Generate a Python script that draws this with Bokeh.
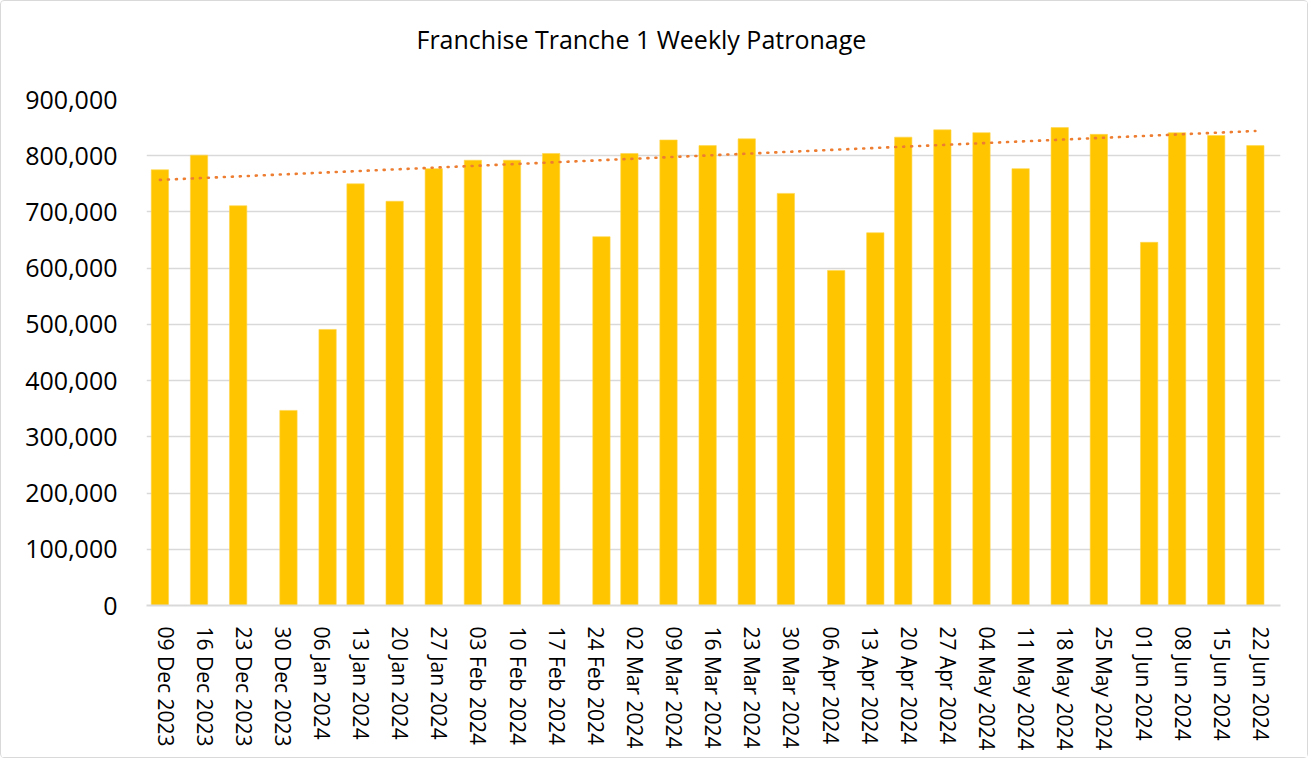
import numpy as np
import pandas as pd
from bokeh.plotting import figure
from bokeh.models import Range1d, FixedTicker, NumeralTickFormatter, Title
from bokeh.embed import file_html
from bokeh.resources import INLINE

title_text = "Franchise Tranche 1 Weekly Patronage"

tick_labels = [
    "09 Dec 2023", "16 Dec 2023", "23 Dec 2023", "30 Dec 2023", "06 Jan 2024",
    "13 Jan 2024", "20 Jan 2024", "27 Jan 2024", "03 Feb 2024", "10 Feb 2024",
    "17 Feb 2024", "24 Feb 2024", "02 Mar 2024", "09 Mar 2024", "16 Mar 2024",
    "23 Mar 2024", "30 Mar 2024", "06 Apr 2024", "13 Apr 2024", "20 Apr 2024",
    "27 Apr 2024", "04 May 2024", "11 May 2024", "18 May 2024", "25 May 2024",
    "01 Jun 2024", "08 Jun 2024", "15 Jun 2024", "22 Jun 2024",
]

bar_dates = [
    "08 Dec 2023", "15 Dec 2023", "22 Dec 2023", "31 Dec 2023", "07 Jan 2024",
    "12 Jan 2024", "19 Jan 2024", "26 Jan 2024", "02 Feb 2024", "09 Feb 2024",
    "16 Feb 2024", "25 Feb 2024", "01 Mar 2024", "08 Mar 2024", "15 Mar 2024",
    "22 Mar 2024", "29 Mar 2024", "07 Apr 2024", "14 Apr 2024", "19 Apr 2024",
    "26 Apr 2024", "03 May 2024", "10 May 2024", "17 May 2024", "24 May 2024",
    "02 Jun 2024", "07 Jun 2024", "14 Jun 2024", "21 Jun 2024",
]

patronage = [
    775000, 801000, 711000, 347000, 491000,
    750000, 719000, 777000, 792000, 792000,
    804000, 656000, 804000, 828000, 818000,
    830000, 733000, 596000, 663000, 833000,
    846000, 841000, 777000, 850000, 838000,
    646000, 841000, 836000, 818000,
]

# trendline values at the first and last bar
trend_values = [757000, 844000]

y_ticks = [0, 100000, 200000, 300000, 400000, 500000, 600000, 700000, 800000, 900000]

FMT = "%d %b %Y"
origin = pd.to_datetime(tick_labels[0], format=FMT)
tick_pos = [int((pd.to_datetime(t, format=FMT) - origin).days) for t in tick_labels]
bar_x = np.array([(pd.to_datetime(d, format=FMT) - origin).days for d in bar_dates], dtype=float)
vals = np.array(patronage, dtype=float)
trend_x = [bar_x[0], bar_x[-1]]

FONT = "Open Sans"
W, H = 1308, 758

p = figure(
    width=W, height=H,
    output_backend="svg", toolbar_location=None,
    x_range=Range1d(-3.4, 199.5), y_range=Range1d(0, 900000),
    min_border_left=145, min_border_right=W - 1279,
    min_border_top=98, min_border_bottom=H - 604,
    title=title_text,
)
p.outline_line_color = None
p.background_fill_color = "white"
p.border_fill_color = "white"
p.styles = {"border": "1.5px solid #D9D9D9", "border-radius": "4px"}

p.title.align = "left"
p.title.offset = 270
p.title.standoff = 0
p.title.text_font = FONT
p.title.text_font_size = "25px"
p.title.text_font_style = "normal"
p.title.text_color = "#000000"

# empty spacer between title and plot area
p.add_layout(Title(text=" ", text_font_size="2px", standoff=40,
                   text_color="white"), "above")

p.vbar(x=bar_x, top=vals, width=3.1, fill_color="#FFC600",
       line_color="#FFD54A", line_width=0.6)
p.line(trend_x, trend_values, line_color="#ED7D31", line_width=2.6,
       line_dash="1 7", line_cap="round")

# y axis
p.yaxis.ticker = FixedTicker(ticks=y_ticks)
p.yaxis.formatter = NumeralTickFormatter(format="0,0")
p.yaxis.axis_line_color = None
p.yaxis.major_tick_line_color = None
p.yaxis.minor_tick_line_color = None
p.yaxis.major_label_standoff = 23
p.yaxis.major_label_text_font = FONT
p.yaxis.major_label_text_font_size = "25px"
p.yaxis.major_label_text_color = "#000000"

p.ygrid.ticker = FixedTicker(ticks=y_ticks)
p.ygrid.grid_line_color = "#D9D9D9"
p.ygrid.grid_line_width = 1.6
p.xgrid.grid_line_color = None

# x axis
p.xaxis.ticker = FixedTicker(ticks=tick_pos)
p.xaxis.major_label_overrides = {pos: lab for pos, lab in zip(tick_pos, tick_labels)}
p.xaxis.major_label_orientation = "vertical"
p.xaxis.axis_line_color = "#D9D9D9"
p.xaxis.axis_line_width = 2
p.xaxis.major_tick_line_color = None
p.xaxis.minor_tick_line_color = None
p.xaxis.major_label_standoff = 15
p.xaxis.major_label_text_font = FONT
p.xaxis.major_label_text_font_size = "21px"
p.xaxis.major_label_text_color = "#000000"

open("out.html", "w").write(file_html(p, INLINE))
